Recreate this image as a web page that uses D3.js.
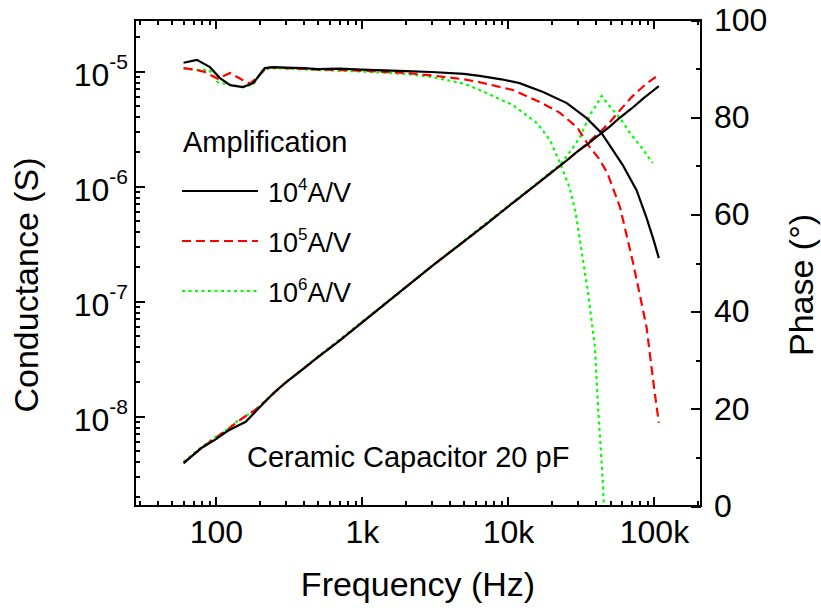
<!DOCTYPE html>
<html>
<head>
<meta charset="utf-8">
<script src="https://cdn.jsdelivr.net/npm/d3@7"></script>
<style>
body{margin:0;background:#fff}
text{font-family:"Liberation Sans",Arial,sans-serif}
</style>
</head>
<body>
<div id="canvas"></div>
<script>
// conductance (left axis), one list per amplification
const condFreq4 = [60,70,80,90,100,120,140,160,180,200,250,300,400,500,700,1000,2000,3000,5000,7000,10000,15000,20000,25000,30000,35000,40000,44000,50000,58000,70000,85000,98000,108000]
const cond4 = [3.9e-9,4.6e-9,5.3e-9,5.8e-9,6.3e-9,7.4e-9,8.2e-9,8.9e-9,1.04e-8,1.2e-8,1.6e-8,1.95e-8,2.6e-8,3.25e-8,4.5e-8,6.5e-8,1.32e-7,2.0e-7,3.3e-7,4.6e-7,6.6e-7,9.9e-7,1.32e-6,1.65e-6,2.0e-6,2.3e-6,2.65e-6,2.9e-6,3.3e-6,3.9e-6,4.7e-6,5.8e-6,6.7e-6,7.4e-6]
const condFreq5 = [60,70,80,90,100,120,140,160,180,200,250,300,400,500,700,1000,2000,3000,5000,7000,10000,15000,20000,25000,30000,35000,40000,44000,50000,58000,70000,85000,98000,108000]
const cond5 = [3.9e-9,4.6e-9,5.3e-9,5.9e-9,6.5e-9,7.6e-9,8.9e-9,1.0e-8,1.1e-8,1.22e-8,1.58e-8,1.95e-8,2.6e-8,3.25e-8,4.5e-8,6.5e-8,1.32e-7,2.0e-7,3.3e-7,4.6e-7,6.6e-7,9.9e-7,1.32e-6,1.65e-6,2.0e-6,2.35e-6,2.75e-6,3.05e-6,3.6e-6,4.5e-6,5.9e-6,7.4e-6,8.5e-6,9.3e-6]
const condFreq6 = [60,70,80,90,100,120,140,160,180,200,250,300,400,500,700,1000,2000,3000,5000,7000,10000,15000,20000,22700,26600,31200,36400,40000,43800,50000,58500,68600,80700,98000]
const cond6 = [4.0e-9,4.7e-9,5.4e-9,6.0e-9,6.6e-9,7.7e-9,9.0e-9,1.0e-8,1.1e-8,1.23e-8,1.58e-8,1.95e-8,2.6e-8,3.3e-8,4.6e-8,6.6e-8,1.33e-7,2.0e-7,3.35e-7,4.7e-7,6.7e-7,1.0e-6,1.35e-6,1.52e-6,1.98e-6,2.67e-6,4.14e-6,5.0e-6,6.06e-6,4.9e-6,3.9e-6,2.88e-6,2.23e-6,1.58e-6]

// phase (right axis)
const phaseFreq4 = [60,74,91,106,125,153,180,216,250,300,400,500,700,1000,2000,3000,5000,6400,9000,12000,17400,25300,34600,43800,61000,76000,89000,100000,108000]
const phase4 = [91.2,91.8,90.3,88.1,86.6,86.2,87.0,90.1,90.3,90.2,90.1,89.9,90.0,89.8,89.5,89.3,88.9,88.5,87.8,87.0,85.2,82.9,79.8,76.7,70.2,65.0,59.3,54.5,51.0]
const phaseFreq5 = [60,74,84,103,125,151,171,194,224,300,500,1000,2000,3000,5000,6400,10800,16600,22700,30000,36000,42000,48000,58500,72000,89000,100000,108000]
const phase5 = [90.1,89.7,89.3,87.9,89.1,87.7,86.9,88.3,90.3,90.1,89.8,89.6,89.1,88.6,87.8,87.2,85.6,83.1,80.9,77.8,74.0,71.5,68.5,61.5,50.0,36.8,24.5,17.1]
const phaseFreq6 = [60,74,90,103,119,153,181,210,234,300,500,1000,2000,3000,5000,6400,10800,15800,19400,22700,26400,29000,31000,35400,39400,41400,44300,45400]
const phase6 = [90.1,89.7,89.7,87.2,86.8,86.2,86.8,89.7,90.1,90.0,89.7,89.4,88.9,88.3,86.9,85.6,82.5,78.8,75.3,70.6,65.6,60.5,55.0,43.8,32.7,20.4,6.8,0]

// ticks and labels
const xMajor = [100,1000,10000,100000]
const xLabels = ["100","1k","10k","100k"]
const yMajor = [1e-8,1e-7,1e-6,1e-5]
const yExp = ["-8","-7","-6","-5"]
const phaseTicks = [0,20,40,60,80,100]
const phaseMinor = [10,30,50,70,90]
const legendExp = ["4","5","6"]
const colors = ["#000000","#ff0000","#00ff00"]
const dashes = [null,"9,5","3,3.5"]

const width = 821
const height = 612
const margin = {top:20,left:135,bottom:106,right:120}
const iwidth = width-margin.left-margin.right
const iheight = height-margin.top-margin.bottom

const svg = d3.select("#canvas").append("svg")
    .attr("width",width)
    .attr("height",height)
let g = svg.append("g").attr("transform",`translate(${margin.left},${margin.top})`)

const x = d3.scaleLog().domain([27.9,210000]).range([0,iwidth])
const yG = d3.scaleLog().domain([1.65e-9,2.777e-5]).range([iheight,0])
const yP = d3.scaleLinear().domain([0,100]).range([iheight,0])

const xMinor = x.ticks().filter(d=>!xMajor.includes(d))
const yMinor = yG.ticks().filter(d=>!yMajor.some(m=>Math.abs(m-d)/m<1e-6))

function styleAxis(sel){
    sel.select(".domain").remove()
    sel.selectAll(".tick line").attr("stroke","#000").attr("stroke-width",2).style("shape-rendering","crispEdges")
    sel.attr("font-family",null).attr("font-size",32)
    sel.selectAll("text").attr("fill","#000")
}

// bottom
g.append("g").attr("transform",`translate(0,${iheight})`)
    .call(d3.axisBottom(x).tickValues(xMinor).tickFormat("").tickSize(-5).tickSizeOuter(0)).call(styleAxis)
g.append("g").attr("transform",`translate(0,${iheight})`)
    .call(d3.axisBottom(x).tickValues(xMajor).tickFormat((d,i)=>xLabels[i]).tickSize(-9).tickPadding(14).tickSizeOuter(0)).call(styleAxis)
// top
g.append("g").call(d3.axisTop(x).tickValues(xMinor).tickFormat("").tickSize(-5).tickSizeOuter(0)).call(styleAxis)
g.append("g").call(d3.axisTop(x).tickValues(xMajor).tickFormat("").tickSize(-9).tickSizeOuter(0)).call(styleAxis)
// left
g.append("g").call(d3.axisLeft(yG).tickValues(yMinor).tickFormat("").tickSize(-5).tickSizeOuter(0)).call(styleAxis)
const gy = g.append("g").call(d3.axisLeft(yG).tickValues(yMajor).tickFormat("").tickSize(-10).tickPadding(7).tickSizeOuter(0)).call(styleAxis)
gy.selectAll(".tick text").attr("dy","0.44em").each(function(d,i){
    const t = d3.select(this)
    t.append("tspan").text("10")
    t.append("tspan").attr("dy",-17).attr("font-size",21).text(yExp[i])
})
// right
g.append("g").attr("transform",`translate(${iwidth},0)`)
    .call(d3.axisRight(yP).tickValues(phaseMinor).tickFormat("").tickSize(-5).tickSizeOuter(0)).call(styleAxis)
g.append("g").attr("transform",`translate(${iwidth},0)`)
    .call(d3.axisRight(yP).tickValues(phaseTicks).tickSize(-10).tickPadding(13).tickSizeOuter(0)).call(styleAxis)

// frame
g.append("rect").attr("width",iwidth).attr("height",iheight)
    .attr("fill","none").attr("stroke","#000").attr("stroke-width",2)

// curves
svg.append("clipPath").attr("id","clip").append("rect").attr("width",iwidth).attr("height",iheight)
const plot = g.append("g").attr("clip-path","url(#clip)")
const zip = (a,b)=>a.map((d,i)=>[d,b[i]])
const condLine = d3.line().x(d=>x(d[0])).y(d=>yG(d[1]))
const phaseLine = d3.line().x(d=>x(d[0])).y(d=>yP(d[1]))
const condSets = [zip(condFreq4,cond4),zip(condFreq5,cond5),zip(condFreq6,cond6)]
const phaseSets = [zip(phaseFreq4,phase4),zip(phaseFreq5,phase5),zip(phaseFreq6,phase6)]

for(let i=2;i>=0;i--){
    plot.append("path").datum(condSets[i]).attr("d",condLine)
        .attr("fill","none").attr("stroke",colors[i]).attr("stroke-width",2.2)
        .attr("stroke-dasharray",dashes[i])
    plot.append("path").datum(phaseSets[i]).attr("d",phaseLine)
        .attr("fill","none").attr("stroke",colors[i]).attr("stroke-width",2.2)
        .attr("stroke-dasharray",dashes[i])
}

// legend
const leg = svg.append("g")
leg.append("text").attr("x",183).attr("y",152).attr("font-size",29).text("Amplification")
legendExp.forEach((e,i)=>{
    const ly = 191+i*50
    leg.append("line").attr("x1",182).attr("x2",258).attr("y1",ly).attr("y2",ly)
        .attr("stroke",colors[i]).attr("stroke-width",2.2).attr("stroke-dasharray",dashes[i])
    const t = leg.append("text").attr("x",268).attr("y",ly+11).attr("font-size",27)
    t.append("tspan").text("10")
    t.append("tspan").attr("dy",-12).attr("font-size",17).text(e)
    t.append("tspan").attr("dy",12).text("A/V")
})

svg.append("text").attr("x",247).attr("y",467).attr("font-size",29).text("Ceramic Capacitor 20 pF")

// axis titles
svg.append("text").attr("transform","translate(38,285) rotate(-90)").attr("text-anchor","middle")
    .attr("font-size",34).text("Conductance (S)")
svg.append("text").attr("transform","translate(813,285) rotate(-90)").attr("text-anchor","middle")
    .attr("font-size",34).text("Phase (°)")
svg.append("text").attr("x",margin.left+iwidth/2).attr("y",596).attr("text-anchor","middle")
    .attr("font-size",34).text("Frequency (Hz)")
</script>
</body>
</html>
